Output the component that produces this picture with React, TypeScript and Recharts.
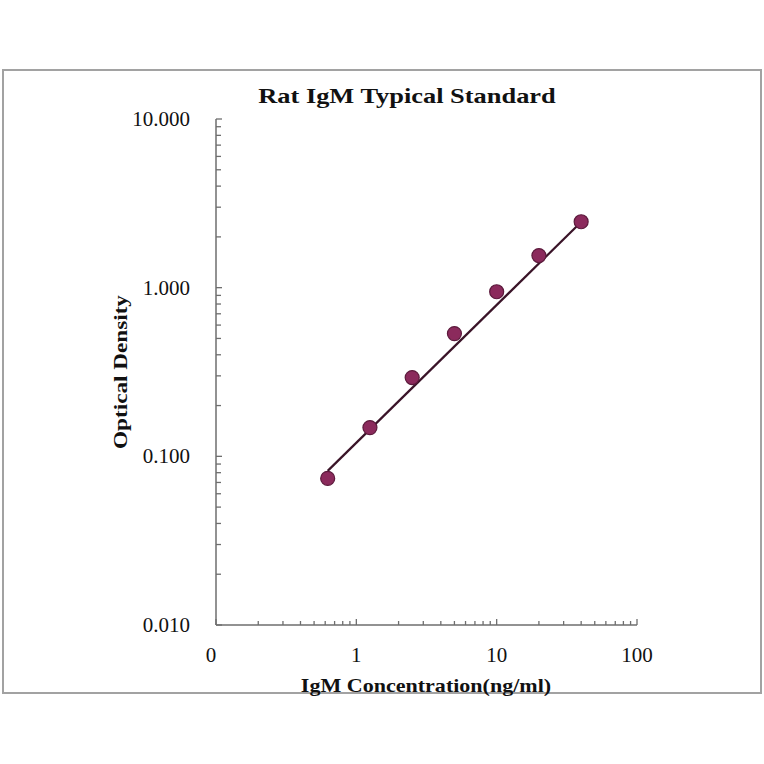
import React from 'react';
import { ScatterChart, Scatter, XAxis, YAxis } from 'recharts';

// standard curve readings
const concentrations = [0.625, 1.25, 2.5, 5, 10, 20, 40];
const opticalDensity = [0.074, 0.148, 0.293, 0.534, 0.946, 1.55, 2.46];

// fitted line end points
const fitConcentrations = [0.625, 40];
const fitDensity = [0.082, 2.45];

const xTicks = [
  0.1, 0.2, 0.3, 0.4, 0.5, 0.6, 0.7, 0.8, 0.9,
  1, 2, 3, 4, 5, 6, 7, 8, 9,
  10, 20, 30, 40, 50, 60, 70, 80, 90, 100,
];
const yTicks = [
  0.01, 0.02, 0.03, 0.04, 0.05, 0.06, 0.07, 0.08, 0.09,
  0.1, 0.2, 0.3, 0.4, 0.5, 0.6, 0.7, 0.8, 0.9,
  1, 2, 3, 4, 5, 6, 7, 8, 9, 10,
];
const xLabels: Record<string, string> = { '0.1': '0', '1': '1', '10': '10', '100': '100' };
const yLabels: Record<string, string> = { '0.01': '0.010', '0.1': '0.100', '1': '1.000', '10': '10.000' };

const points = concentrations.map((x, i) => ({ x, y: opticalDensity[i] }));
const fit = fitConcentrations.map((x, i) => ({ x, y: fitDensity[i] }));

const AXIS = '#6e6e6e';
const FONT = '"Liberation Serif", "Times New Roman", serif';

const XTick = (props: any) => {
  const { x, y, payload } = props;
  const label = xLabels[String(payload.value)];
  return (
    <g>
      <line x1={x} y1={y} x2={x} y2={y - (label ? 6 : 4)} stroke={AXIS} strokeWidth={1.3} />
      {label && (
        <text x={payload.value === 0.1 ? x - 5 : x} y={y + 37} textAnchor="middle"
          fontFamily={FONT} fontSize={21} fill="#111">{label}</text>
      )}
    </g>
  );
};

const YTick = (props: any) => {
  const { x, y, payload } = props;
  const label = yLabels[String(payload.value)];
  return (
    <g>
      <line x1={x} y1={y} x2={x + (label ? 6 : 5)} y2={y} stroke={AXIS} strokeWidth={1.3} />
      {label && (
        <text x={x - 26} y={y + 7} textAnchor="end"
          fontFamily={FONT} fontSize={21} fill="#111">{label}</text>
      )}
    </g>
  );
};

const Dot = (props: any) => (
  <circle cx={props.cx} cy={props.cy} r={7} fill="#8b2a5c" stroke="#5c1a3c" strokeWidth={1.2} />
);

export default function App() {
  return (
    <div style={{ position: 'absolute', left: 0, top: 0, width: 764, height: 764, background: '#fff', fontFamily: FONT }}>
      <div style={{
        position: 'absolute', left: 2, top: 69, width: 760, height: 625,
        border: '2px solid #a2a2a2', boxSizing: 'border-box',
      }} />
      <div style={{
        position: 'absolute', left: 407, top: 96, transform: 'translate(-50%, -50%) scaleX(1.2)',
        whiteSpace: 'nowrap', fontWeight: 'bold', fontSize: 22, color: '#111',
      }}>
        Rat IgM Typical Standard
      </div>
      <div style={{
        position: 'absolute', left: 426, top: 686, transform: 'translate(-50%, -50%) scaleX(1.16)',
        whiteSpace: 'nowrap', fontWeight: 'bold', fontSize: 19, color: '#111',
      }}>
        IgM Concentration(ng/ml)
      </div>
      <div style={{
        position: 'absolute', left: 121, top: 372, transform: 'translate(-50%, -50%) rotate(-90deg) scaleX(1.22)',
        whiteSpace: 'nowrap', fontWeight: 'bold', fontSize: 19, color: '#111',
      }}>
        Optical Density
      </div>
      <div style={{ position: 'absolute', left: 0, top: 0 }}>
        <ScatterChart width={764} height={764} margin={{ top: 119, right: 127, bottom: 79, left: 0 }}>
          <XAxis
            type="number" dataKey="x" scale="log" domain={[0.1, 100]} allowDataOverflow
            ticks={xTicks} interval={0} tick={<XTick />} tickLine={false}
            tickSize={0} tickMargin={0} height={60}
            axisLine={{ stroke: AXIS, strokeWidth: 1.5 }}
          />
          <YAxis
            type="number" dataKey="y" scale="log" domain={[0.01, 10]} allowDataOverflow
            ticks={yTicks} interval={0} tick={<YTick />} tickLine={false}
            tickSize={0} tickMargin={0} width={216}
            axisLine={{ stroke: AXIS, strokeWidth: 1.5 }}
          />
          <Scatter data={fit} line={{ stroke: '#3a1428', strokeWidth: 2.2 }}
            shape={() => <g />} isAnimationActive={false} />
          <Scatter data={points} shape={<Dot />} isAnimationActive={false} />
        </ScatterChart>
      </div>
    </div>
  );
}
